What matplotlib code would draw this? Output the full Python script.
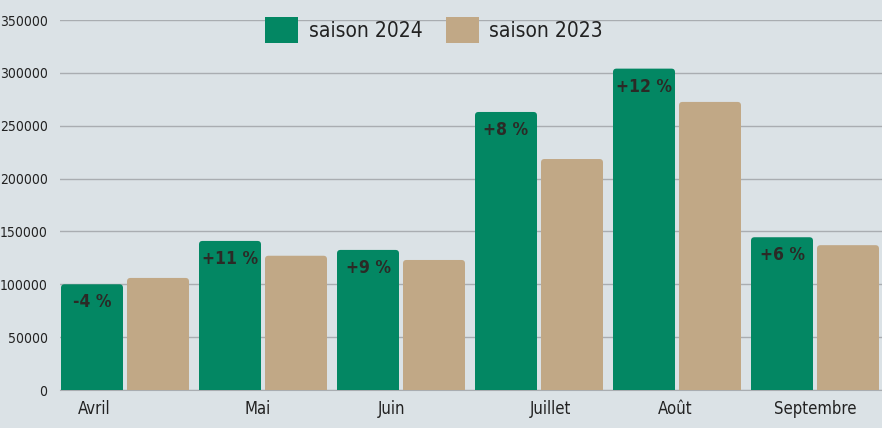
import numpy as np
import matplotlib
matplotlib.use("Agg")
from matplotlib import pyplot as plt
from matplotlib.patches import FancyBboxPatch
from matplotlib import font_manager

# data
months = ["Avril", "Mai", "Juin", "Juillet", "Août", "Septembre"]
saison_2024 = [100000, 141000, 132500, 263000, 304000, 144500]
saison_2023 = [106000, 127000, 123000, 218500, 272500, 137000]
evolution = ["-4 %", "+11 %", "+9 %", "+8 %", "+12 %", "+6 %"]

# style
bg = "#dbe2e6"
green = "#038763"
tan = "#c1a886"
grid_col = "#a9adb1"
txt = "#222222"

names = {f.name for f in font_manager.fontManager.ttflist}
if "Liberation Sans Narrow" in names:
    fam = ["Liberation Sans Narrow", "DejaVu Sans"]
    stretch = "normal"
else:
    fam = ["DejaVu Sans"]
    stretch = "condensed"
plt.rcParams["font.family"] = fam
plt.rcParams["font.stretch"] = stretch

W, H = 882, 428
fig = plt.figure(figsize=(W / 100, H / 100), dpi=100, facecolor=bg)
ax = fig.add_axes([60 / W, (H - 390) / H, 822 / W, 370 / H], facecolor=bg)

x = np.arange(len(months))
upx = 138.0  # pixels per category
bw = 62 / upx
gap = 4 / upx
ymax = 350000

ax.set_xlim(-65 / upx, -65 / upx + 822 / upx)
ax.set_ylim(0, ymax)

# rounded bars
xpx = 1 / upx
ypx = ymax / 370.0
aspect = ypx / xpx
r = 3.5 * xpx
for xs, vals, col in [(x - bw / 2 - gap / 2, saison_2024, green),
                      (x + bw / 2 + gap / 2, saison_2023, tan)]:
    for xc, v in zip(xs, vals):
        p = FancyBboxPatch((xc - bw / 2, -10 * ypx), bw, v + 10 * ypx,
                           boxstyle="round,pad=0,rounding_size=%f" % r,
                           mutation_aspect=aspect, facecolor=col,
                           edgecolor="none", zorder=3)
        ax.add_patch(p)

for xc, v, lab in zip(x - bw / 2 - gap / 2, saison_2024, evolution):
    ax.annotate(lab, (xc, v), xytext=(0, -6.5), textcoords="offset points",
                ha="center", va="top", fontsize=12.5, fontweight="bold",
                color="#2b2a26", zorder=4)

ax.set_yticks(np.arange(0, 350001, 50000))
ax.set_yticklabels([str(v) for v in range(0, 350001, 50000)])
ax.yaxis.grid(True, color=grid_col, linewidth=1.0, zorder=0)
ax.set_axisbelow(True)
ax.tick_params(axis="y", length=0, labelsize=10, pad=9, labelcolor=txt)

label_shift = [-0.22, -0.04, -0.07, 0.08, -0.01, 0.0]
ax.set_xticks(x + np.array(label_shift))
ax.set_xticklabels(months)
ax.tick_params(axis="x", length=0, labelsize=12, pad=7, labelcolor=txt)

for s in ["top", "right", "left"]:
    ax.spines[s].set_visible(False)
ax.spines["bottom"].set_color(grid_col)

# legend
h1 = plt.Rectangle((0, 0), 1, 1, facecolor=green, edgecolor="none")
h2 = plt.Rectangle((0, 0), 1, 1, facecolor=tan, edgecolor="none")
fig.legend([h1, h2], ["saison 2024", "saison 2023"], loc="center",
           bbox_to_anchor=(434 / W, 1 - 30 / H), ncol=2, frameon=False,
           fontsize=15, handlelength=1.6, handleheight=1.6,
           handletextpad=0.5, columnspacing=1.1, labelcolor=txt)

fig.savefig("out.png", dpi=100, facecolor=bg)
